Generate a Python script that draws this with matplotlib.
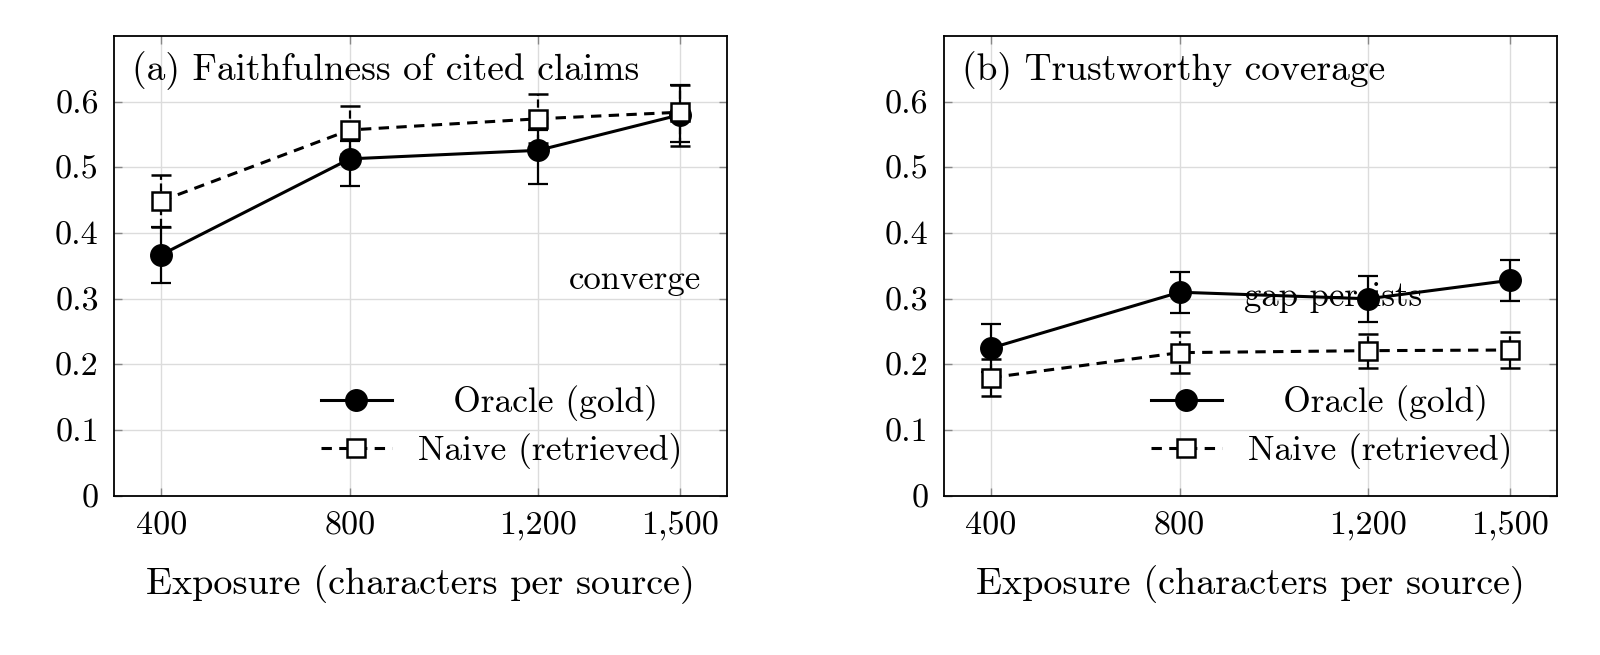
import matplotlib.pyplot as plt
import numpy as np

plt.rcParams['font.family'] = ['cmr10', 'DejaVu Serif']
plt.rcParams['axes.formatter.use_mathtext'] = True

exposure = [400, 800, 1200, 1500]
tick_labels = ["400", "800", "1,200", "1,500"]
y_ticks = [0, 0.1, 0.2, 0.3, 0.4, 0.5, 0.6]
y_tick_labels = ["0", "0.1", "0.2", "0.3", "0.4", "0.5", "0.6"]

# panel (a): faithfulness of cited claims
faith_oracle = [0.367, 0.513, 0.526, 0.580]
faith_oracle_lo = [0.043, 0.042, 0.052, 0.042]
faith_oracle_hi = [0.043, 0.027, 0.031, 0.046]
faith_naive = [0.449, 0.557, 0.574, 0.584]
faith_naive_lo = [0.040, 0.037, 0.037, 0.051]
faith_naive_hi = [0.040, 0.037, 0.037, 0.042]

# panel (b): trustworthy coverage
cov_oracle = [0.225, 0.310, 0.300, 0.328]
cov_oracle_err = [0.036, 0.031, 0.035, 0.031]
cov_naive = [0.180, 0.218, 0.221, 0.222]
cov_naive_err = [0.028, 0.031, 0.026, 0.027]

panels = [
    ("(a) Faithfulness of cited claims",
     faith_oracle, [faith_oracle_lo, faith_oracle_hi],
     faith_naive, [faith_naive_lo, faith_naive_hi],
     ("converge", 1406, 0.328)),
    ("(b) Trustworthy coverage",
     cov_oracle, [cov_oracle_err, cov_oracle_err],
     cov_naive, [cov_naive_err, cov_naive_err],
     ("gap persists", 1125, 0.302)),
]

fig = plt.figure(figsize=(16, 6.55), dpi=100)
axes = [fig.add_axes([0.0713, 0.243, 0.383, 0.702]),
        fig.add_axes([0.59, 0.243, 0.383, 0.702])]

dash = (0, (3.4, 2.4))
for ax, (title, orc, orc_err, nai, nai_err, note) in zip(axes, panels):
    ax.grid(True, color="#dcdcdc", lw=1.0, zorder=0)
    ax.set_axisbelow(True)
    ax.text(note[1], note[2], note[0], ha="center", va="center",
            fontsize=25, zorder=1)

    eo = ax.errorbar(exposure, orc, yerr=orc_err, color="black", lw=2.2,
                     marker="o", ms=15.5, mfc="black", mec="black",
                     elinewidth=1.6, capsize=7, capthick=1.6, zorder=3)
    en = ax.errorbar(exposure, nai, yerr=nai_err, color="black", lw=2.2,
                     ls=dash, marker="s", ms=13, mfc="white", mec="black",
                     mew=1.8, elinewidth=1.6, capsize=7, capthick=1.6,
                     zorder=4)
    en[2][0].set_linestyle("--")

    ax.set_xlim(300, 1600)
    ax.set_ylim(0, 0.7)
    ax.set_xticks(exposure)
    ax.set_xticklabels(tick_labels)
    ax.set_yticks(y_ticks)
    ax.set_yticklabels(y_tick_labels)
    ax.tick_params(direction="in", length=6, width=1, color="#888888",
                   top=True, right=True, labelsize=24.5, pad=11)
    for s in ax.spines.values():
        s.set_linewidth(1.3)

    ax.set_xlabel("Exposure (characters per source)", fontsize=27.5, labelpad=18)
    ax.text(0.03, 0.925, title, transform=ax.transAxes, ha="left",
            va="center", fontsize=27)

    # labels are centred in the original legend
    ax.legend([eo[0], en[0]], ["   Oracle (gold)", "Naive (retrieved)"],
              loc="lower right", bbox_to_anchor=(0.98, -0.012),
              frameon=False, fontsize=25.5, handlelength=2.0,
              numpoints=1, labelspacing=0.35, handletextpad=0.75)

fig.savefig("out.png", dpi=100)
